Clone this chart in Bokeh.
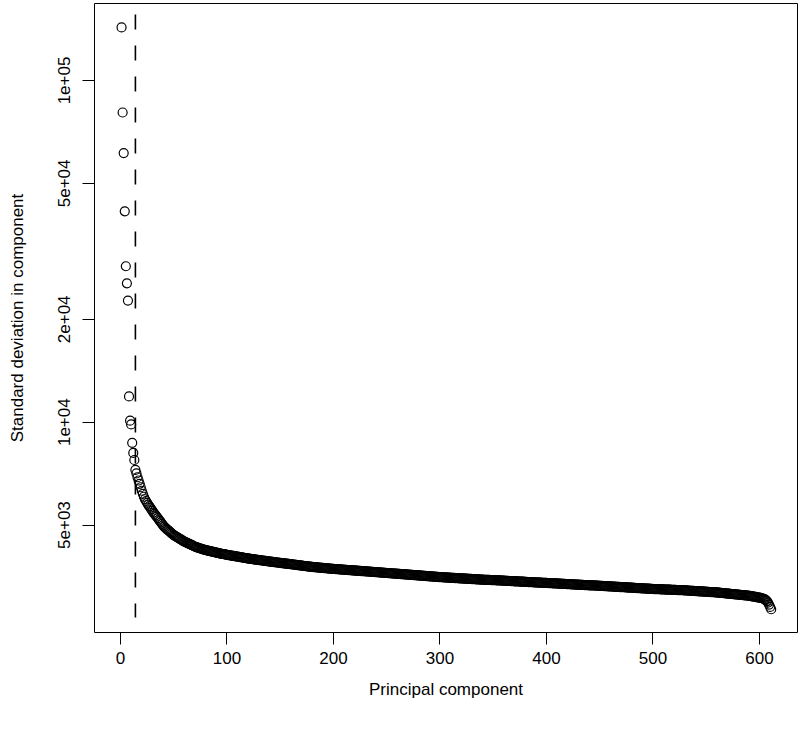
from bokeh.plotting import figure
from bokeh.models import FixedTicker, Range1d
from bokeh.embed import file_html
from bokeh.resources import INLINE

# ---- data ----
sd_values = [
    143000, 80600, 61300, 41400, 28600, 25500, 22700, 11900, 10100, 9850,
    8700, 8130, 7750, 7250, 7080, 6900, 6750, 6600, 6450, 6300,
    6170, 6050, 5950, 5880, 5810, 5740, 5680, 5620, 5560, 5500,
    5440, 5390, 5340, 5290, 5240, 5190, 5140, 5090, 5040, 4990,
    4950, 4910, 4880, 4850, 4820, 4790, 4760, 4730, 4700, 4670,
    4650, 4630, 4610, 4590, 4570, 4550, 4530, 4510, 4490, 4470,
    4455, 4440, 4425, 4410, 4395, 4380, 4365, 4350, 4335, 4320,
    4310, 4300, 4290, 4280, 4270, 4260, 4250, 4240, 4230, 4220,
    4213, 4206, 4199, 4192, 4185, 4178, 4171, 4164, 4157, 4150,
    4144, 4138, 4132, 4126, 4120, 4114, 4108, 4102, 4096, 4090,
    4085, 4080, 4075, 4070, 4065, 4060, 4055, 4050, 4045, 4040,
    4035, 4030, 4025, 4020, 4015, 4010, 4005, 4000, 3995, 3990,
    3986, 3982, 3978, 3974, 3970, 3966, 3962, 3958, 3954, 3950,
    3946, 3942, 3938, 3934, 3930, 3926, 3922, 3918, 3914, 3910,
    3906, 3903, 3899, 3896, 3892, 3889, 3885, 3882, 3878, 3875,
    3871, 3868, 3864, 3861, 3857, 3854, 3850, 3847, 3843, 3840,
    3836, 3833, 3829, 3826, 3822, 3819, 3815, 3812, 3808, 3805,
    3801, 3798, 3794, 3791, 3787, 3784, 3780, 3777, 3773, 3770,
    3767, 3765, 3762, 3760, 3757, 3755, 3752, 3750, 3747, 3745,
    3742, 3740, 3737, 3735, 3732, 3730, 3727, 3725, 3722, 3720,
    3718, 3716, 3714, 3712, 3710, 3708, 3706, 3704, 3702, 3700,
    3698, 3696, 3694, 3692, 3690, 3688, 3686, 3684, 3682, 3680,
    3678, 3676, 3674, 3672, 3670, 3668, 3666, 3664, 3662, 3660,
    3658, 3656, 3654, 3652, 3650, 3648, 3646, 3644, 3642, 3640,
    3638, 3636, 3634, 3632, 3630, 3628, 3626, 3624, 3622, 3620,
    3618, 3616, 3614, 3612, 3610, 3608, 3606, 3604, 3602, 3600,
    3598, 3596, 3594, 3592, 3590, 3588, 3586, 3584, 3582, 3580,
    3578, 3576, 3574, 3572, 3570, 3568, 3566, 3564, 3562, 3560,
    3558, 3556, 3554, 3552, 3550, 3548, 3546, 3544, 3542, 3540,
    3538, 3536, 3534, 3532, 3530, 3528, 3526, 3524, 3522, 3520,
    3519, 3517, 3516, 3514, 3513, 3511, 3510, 3508, 3507, 3505,
    3504, 3502, 3501, 3499, 3498, 3496, 3495, 3493, 3492, 3490,
    3489, 3487, 3486, 3484, 3483, 3481, 3480, 3478, 3477, 3475,
    3474, 3472, 3471, 3469, 3468, 3466, 3465, 3463, 3462, 3460,
    3459, 3458, 3457, 3456, 3455, 3454, 3453, 3452, 3451, 3450,
    3449, 3447, 3446, 3445, 3443, 3442, 3441, 3439, 3438, 3437,
    3435, 3434, 3433, 3431, 3430, 3429, 3427, 3426, 3425, 3423,
    3422, 3421, 3419, 3418, 3417, 3415, 3414, 3413, 3411, 3410,
    3409, 3407, 3406, 3405, 3403, 3402, 3401, 3399, 3398, 3397,
    3395, 3394, 3393, 3392, 3391, 3390, 3389, 3388, 3386, 3385,
    3384, 3382, 3381, 3380, 3378, 3377, 3376, 3374, 3373, 3372,
    3370, 3369, 3368, 3366, 3365, 3364, 3362, 3361, 3360, 3358,
    3357, 3356, 3354, 3353, 3352, 3350, 3349, 3348, 3346, 3345,
    3344, 3342, 3341, 3340, 3338, 3337, 3336, 3334, 3333, 3332,
    3331, 3330, 3329, 3328, 3327, 3326, 3325, 3323, 3322, 3320,
    3319, 3317, 3316, 3314, 3313, 3312, 3310, 3309, 3307, 3306,
    3305, 3303, 3302, 3300, 3299, 3298, 3296, 3295, 3293, 3292,
    3291, 3289, 3288, 3286, 3285, 3284, 3282, 3281, 3279, 3278,
    3277, 3275, 3274, 3272, 3271, 3270, 3268, 3267, 3265, 3264,
    3263, 3261, 3260, 3258, 3257, 3256, 3254, 3253, 3251, 3250,
    3249, 3248, 3247, 3246, 3245, 3244, 3243, 3242, 3241, 3240,
    3239, 3238, 3237, 3236, 3235, 3234, 3233, 3232, 3231, 3230,
    3229, 3228, 3227, 3226, 3225, 3224, 3223, 3222, 3221, 3220,
    3218, 3217, 3215, 3214, 3212, 3211, 3209, 3208, 3206, 3205,
    3203, 3202, 3200, 3199, 3197, 3196, 3194, 3193, 3191, 3190,
    3188, 3187, 3185, 3184, 3182, 3181, 3179, 3178, 3176, 3175,
    3173, 3170, 3168, 3166, 3163, 3161, 3159, 3156, 3154, 3152,
    3149, 3147, 3145, 3142, 3140, 3138, 3135, 3133, 3131, 3128,
    3126, 3124, 3121, 3119, 3117, 3114, 3112, 3110, 3107, 3105,
    3101, 3097, 3093, 3089, 3085, 3081, 3077, 3073, 3069, 3065,
    3060, 3055, 3048, 3040, 3030, 3015, 2995, 2965, 2925, 2880, 2835,
]
components = list(range(1, len(sd_values) + 1))

x_ticks = [0, 100, 200, 300, 400, 500, 600]
y_ticks = [5000, 10000, 20000, 50000, 100000]
y_tick_labels = ["5e+03", "1e+04", "2e+04", "5e+04", "1e+05"]

cutoff_component = 14
cutoff_top = 156000
cutoff_bottom = 2680

FONT = "Liberation Sans"

p = figure(
    width=798, height=728,
    x_axis_type="linear", y_axis_type="log",
    x_range=Range1d(-24.41, 635.7),
    y_range=Range1d(2424, 168000),
    output_backend="svg", toolbar_location=None,
    min_border_left=94, min_border_right=1,
    min_border_top=3, min_border_bottom=96,
)
p.background_fill_color = "white"
p.border_fill_color = "white"
p.outline_line_color = "black"
p.outline_line_width = 1
p.outline_line_alpha = 1.0
p.grid.visible = False

p.scatter(components, sd_values, marker="circle", size=9,
          fill_color=None, line_color="black", line_width=1.2)

p.segment(x0=[cutoff_component], y0=[cutoff_top],
          x1=[cutoff_component], y1=[cutoff_bottom],
          line_color="black", line_width=1.6, line_dash="15 16")

for ax in (p.xaxis[0], p.yaxis[0]):
    ax.axis_line_color = None
    ax.major_tick_line_color = "black"
    ax.major_tick_line_width = 1
    ax.major_tick_out = 12
    ax.major_tick_in = 0
    ax.minor_tick_line_color = None
    ax.major_label_text_font = FONT
    ax.major_label_text_font_size = "17px"
    ax.major_label_text_color = "black"
    ax.axis_label_text_font = FONT
    ax.axis_label_text_font_size = "17px"
    ax.axis_label_text_font_style = "normal"
    ax.axis_label_text_color = "black"

p.xaxis[0].major_label_standoff = 7
p.xaxis[0].axis_label_standoff = 13
p.yaxis[0].major_label_standoff = 12
p.yaxis[0].axis_label_standoff = 29

p.xaxis[0].ticker = FixedTicker(ticks=x_ticks, minor_ticks=[])
p.xaxis[0].axis_label = "Principal component"

p.yaxis[0].ticker = FixedTicker(ticks=y_ticks, minor_ticks=[])
p.yaxis[0].major_label_overrides = {t: lab for t, lab in zip(y_ticks, y_tick_labels)}
p.yaxis[0].major_label_orientation = "vertical"
p.yaxis[0].axis_label = "Standard deviation in component"

open("out.html", "w").write(file_html(p, INLINE))
